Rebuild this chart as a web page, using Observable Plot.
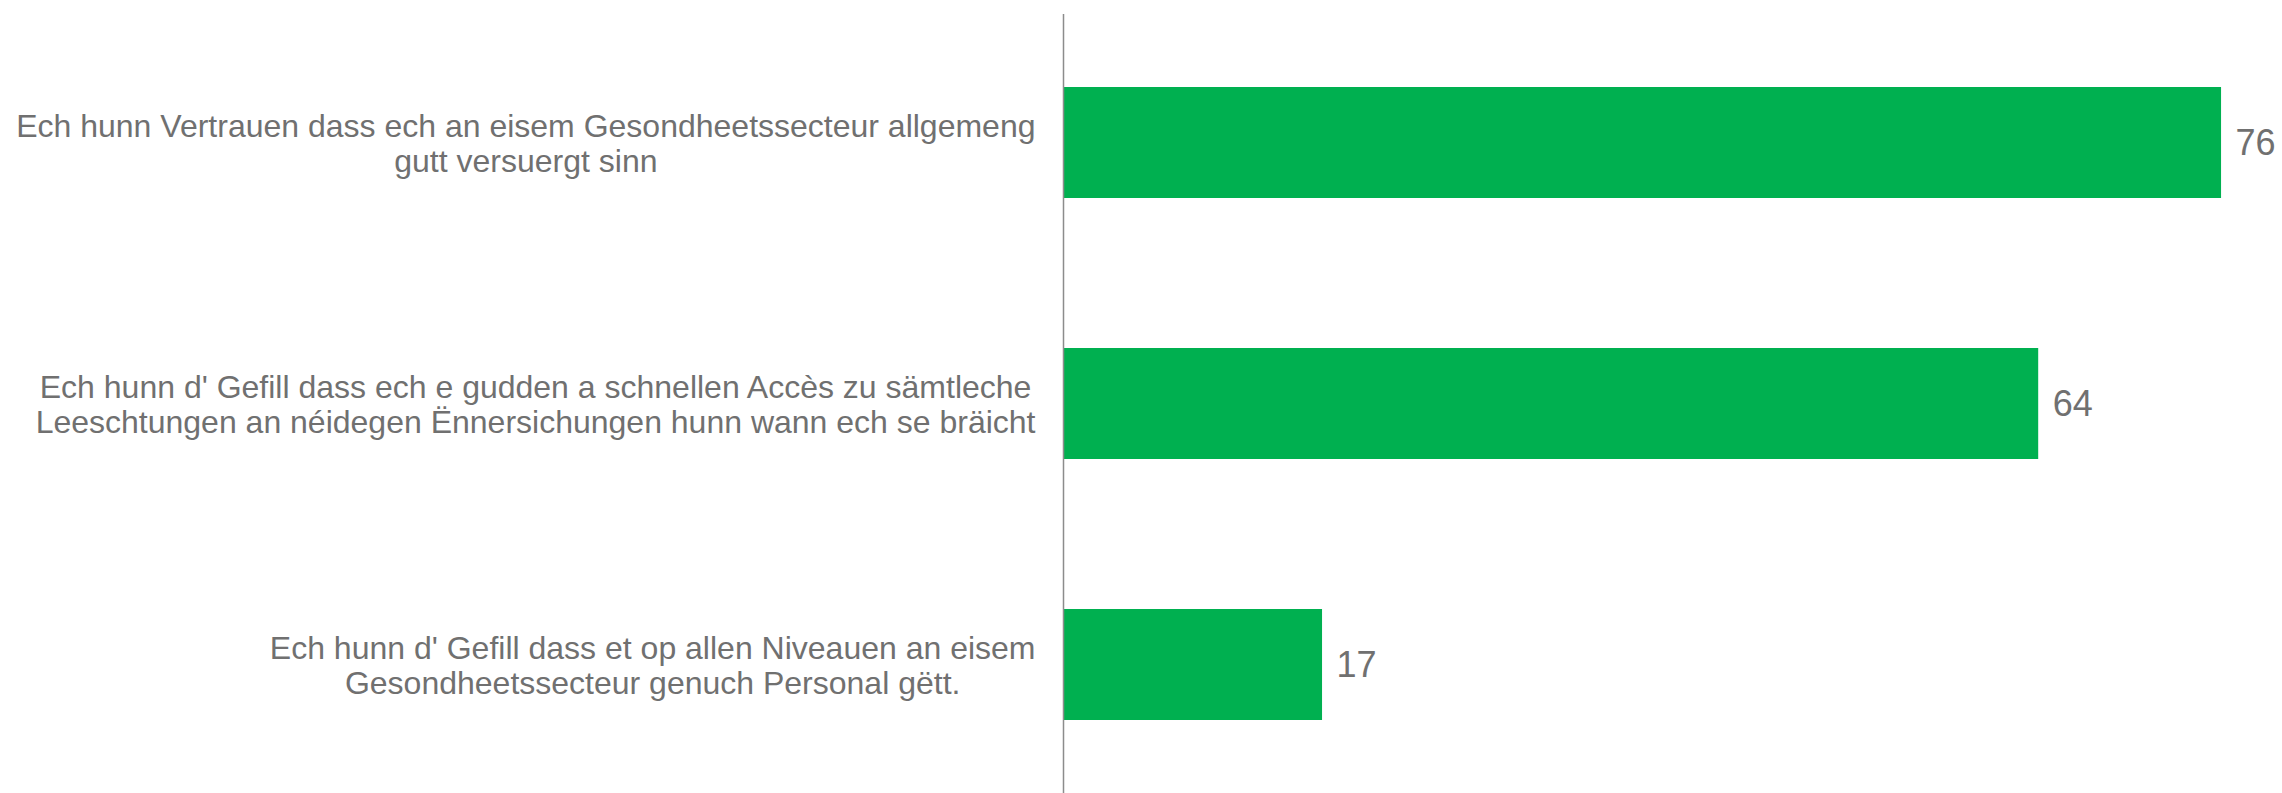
<!DOCTYPE html>
<html>
<head>
<meta charset="utf-8">
<script src="https://cdn.jsdelivr.net/npm/d3@7"></script>
<script src="https://cdn.jsdelivr.net/npm/@observablehq/plot@0.6"></script>
<style>
  html, body { margin: 0; padding: 0; background: #ffffff; }
  #chart svg { display: block; }
</style>
</head>
<body>
<div id="chart"></div>
<script>
const categories = [
  "Ech hunn Vertrauen dass ech an eisem Gesondheetssecteur allgemeng\ngutt versuergt sinn",
  "Ech hunn d' Gefill dass ech e gudden a schnellen Accès zu sämtleche\nLeeschtungen an néidegen Ënnersichungen hunn wann ech se bräicht",
  "Ech hunn d' Gefill dass et op allen Niveauen an eisem\nGesondheetssecteur genuch Personal gëtt."
];
const values = [76, 64, 17];

const data = categories.map((c, i) => ({cat: c, value: values[i]}));

const W = 2282, H = 793;
const marginLeft = 1063;
const labelFont = "32px 'Liberation Sans', Arial, sans-serif";
const labelRight = 1035;

const ctx = document.createElement("canvas").getContext("2d");
ctx.font = labelFont;
function blockWidth(t) {
  return d3.max(t.split("\n"), l => ctx.measureText(l).width);
}

const labelMarks = data.map(d => {
  const w = blockWidth(d.cat);
  const dx = (labelRight - w / 2) - marginLeft;
  return Plot.text([d], {
    x: () => 0, y: "cat", text: "cat",
    dx, textAnchor: "middle", lineHeight: 1.1,
    fill: "#707070", fontSize: 32
  });
});

const chart = Plot.plot({
  width: W,
  height: H,
  marginLeft,
  marginRight: 0,
  marginTop: 14,
  marginBottom: 0,
  style: {fontFamily: "'Liberation Sans', Arial, sans-serif", background: "#ffffff"},
  x: {domain: [0, 80], axis: null},
  y: {domain: categories, axis: null, paddingInner: 0.576, paddingOuter: 0.2785},
  marks: [
    Plot.barX(data, {x: "value", y: "cat", fill: "#00B050"}),
    Plot.ruleX([0], {stroke: "#8c8c8c", strokeWidth: 1.5}),
    Plot.text(data, {x: "value", y: "cat", text: d => String(d.value), textAnchor: "start", dx: 14, fill: "#707070", fontSize: 36}),
    ...labelMarks
  ]
});
document.getElementById("chart").appendChild(chart);
</script>
</body>
</html>
